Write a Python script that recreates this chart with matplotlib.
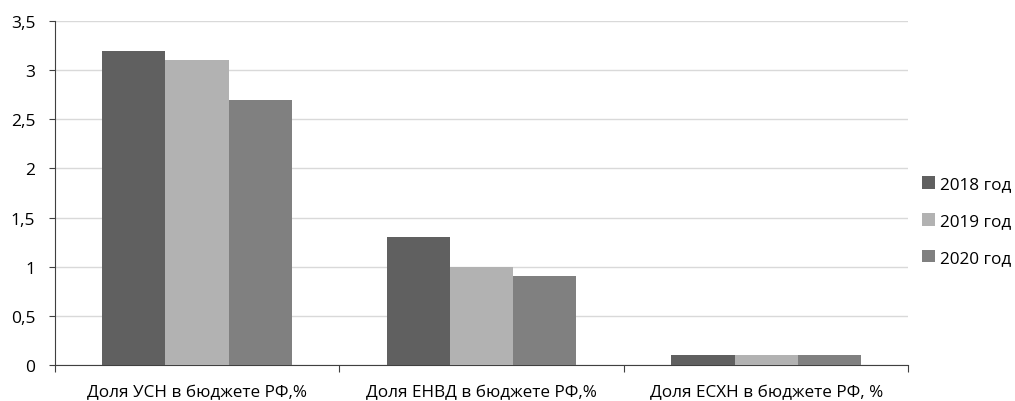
import matplotlib.pyplot as plt
import numpy as np

categories = ['Доля УСН в бюджете РФ,%', 'Доля ЕНВД в бюджете РФ,%', 'Доля ЕСХН в бюджете РФ, %']
series = ['2018 год', '2019 год', '2020 год']
v2018 = [3.2, 1.3, 0.1]
v2019 = [3.1, 1.0, 0.1]
v2020 = [2.7, 0.9, 0.1]
colors = ['#606060', '#b2b2b2', '#808080']

plt.rcParams['font.family'] = ['Open Sans', 'DejaVu Sans']

fig = plt.figure(figsize=(10.15, 4.02), dpi=100)
ax = fig.add_axes([0.054, 0.09, 0.841, 0.855])

x = np.arange(len(categories))
w = 0.222
for i, (vals, name) in enumerate(zip([v2018, v2019, v2020], series)):
    ax.bar(x + (i - 1) * w, vals, w, color=colors[i], label=name, zorder=3)

ax.set_xlim(-0.5, 2.5)
ax.set_ylim(0, 3.5)
ax.set_yticks(np.arange(0, 3.51, 0.5))
ax.set_yticklabels(['0', '0,5', '1', '1,5', '2', '2,5', '3', '3,5'], fontsize=12.5)
ax.yaxis.grid(True, color='#d9d9d9', linewidth=1, zorder=0)

ax.set_xticks([-0.5, 0.5, 1.5, 2.5])
ax.set_xticklabels([])
ax.set_xticks(x, minor=True)
ax.set_xticklabels(categories, minor=True, fontsize=12.3)
ax.tick_params(axis='x', which='minor', length=0, pad=14)
ax.tick_params(axis='x', which='major', length=5, color='#404040')
ax.tick_params(axis='y', length=4, color='#404040', pad=10)

for s in ['top', 'right']:
    ax.spines[s].set_visible(False)
ax.spines['left'].set_color('#404040')
ax.spines['bottom'].set_color('#404040')

ax.legend(loc='center left', bbox_to_anchor=(0.998, 0.418), frameon=False,
          fontsize=12.3, handlelength=0.75, handleheight=0.75, handletextpad=0.3,
          labelspacing=1.2)

fig.savefig('out.png', dpi=100)
